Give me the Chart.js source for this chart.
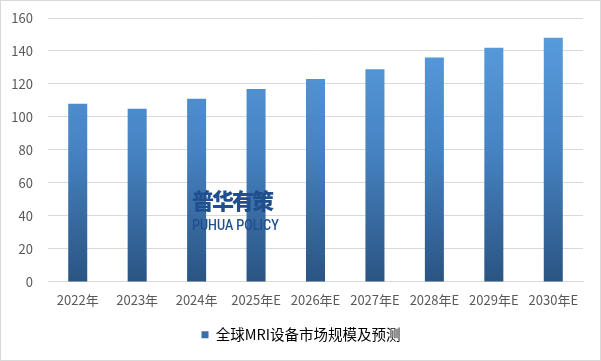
<!DOCTYPE html>
<html>
<head>
<meta charset="utf-8">
<script src="https://cdn.jsdelivr.net/npm/chart.js@4/dist/chart.umd.min.js"></script>
<style>
html,body{margin:0;padding:0;background:#fff;}
#wrap{position:relative;width:601px;height:361px;box-sizing:border-box;border:1px solid #d9d9d9;}
#c{position:absolute;left:0;top:0;}
#wm{position:absolute;left:191px;top:183px;color:#1f4f8f;pointer-events:none;}
#wm .cn{font-family:"Noto Sans CJK SC";font-size:22px;font-weight:900;letter-spacing:-2px;line-height:30px;}
#wm .en{font-family:Roboto,"Noto Sans";font-size:15px;font-weight:500;line-height:16px;margin-top:3px;transform:scaleX(0.83);transform-origin:left top;white-space:nowrap;}
</style>
</head>
<body>
<div id="wrap">
<canvas id="c" width="599" height="359"></canvas>
<div id="wm"><div class="cn">普华有策</div><div class="en">PUHUA POLICY</div></div>
</div>
<script>
const categories = ["2022年","2023年","2024年","2025年E","2026年E","2027年E","2028年E","2029年E","2030年E"];
const values = [108,105,111,117,123,129,136,142,148];
const seriesName = "全球MRI设备市场规模及预测";
const yTicks = [0,20,40,60,80,100,120,140,160];

function grad(ctx, area){
  const g = ctx.createLinearGradient(0, area.top, 0, area.bottom);
  g.addColorStop(0, '#5a9fe0');
  g.addColorStop(0.5, '#4683c3');
  g.addColorStop(1, '#2a5482');
  return g;
}

const legendShift = {
  id: 'legendShift',
  afterLayout(chart){
    const l = chart.legend;
    if (l){ l.left += 9; l.right += 9; }
  }
};

new Chart(document.getElementById('c'), {
  type: 'bar',
  data: {
    labels: categories,
    datasets: [{
      label: seriesName,
      data: values,
      backgroundColor: (c) => {
        const a = c.chart.chartArea;
        if (!a) return '#4a88c8';
        return grad(c.chart.ctx, a);
      },
      categoryPercentage: 1.0,
      barPercentage: 0.32
    }]
  },
  options: {
    responsive: false,
    animation: false,
    layout: {padding: {left: 0, right: 17, top: 0, bottom: 8}},
    scales: {
      x: {
        grid: {display: false, drawTicks: false},
        border: {color: '#d9d9d9'},
        ticks: {color: '#595959', font: {family: '"Noto Sans CJK SC"', size: 13}, padding: 10, maxRotation: 0}
      },
      y: {
        min: 0, max: 160,
        afterBuildTicks: (s) => { s.ticks = yTicks.map(v => ({value: v})); },
        afterFit: (s) => { s.width = 47; s.paddingTop = 17; },
        grid: {color: '#d9d9d9', drawTicks: false},
        border: {display: false},
        ticks: {color: '#595959', font: {family: '"Noto Sans CJK SC"', size: 13}, padding: 15}
      }
    },
    plugins: {
      legend: {
        position: 'bottom',
        labels: {
          color: '#595959',
          font: {family: '"Noto Sans CJK SC"', size: 14.5},
          boxWidth: 7, boxHeight: 7, padding: 10,
          generateLabels: (chart) => [{
            text: seriesName,
            fillStyle: '#3a6ea9',
            strokeStyle: 'rgba(0,0,0,0)', lineWidth: 0, datasetIndex: 0
          }]
        }
      },
      tooltip: {enabled: false}
    }
  },
  plugins: [legendShift]
});
</script>
</body>
</html>
